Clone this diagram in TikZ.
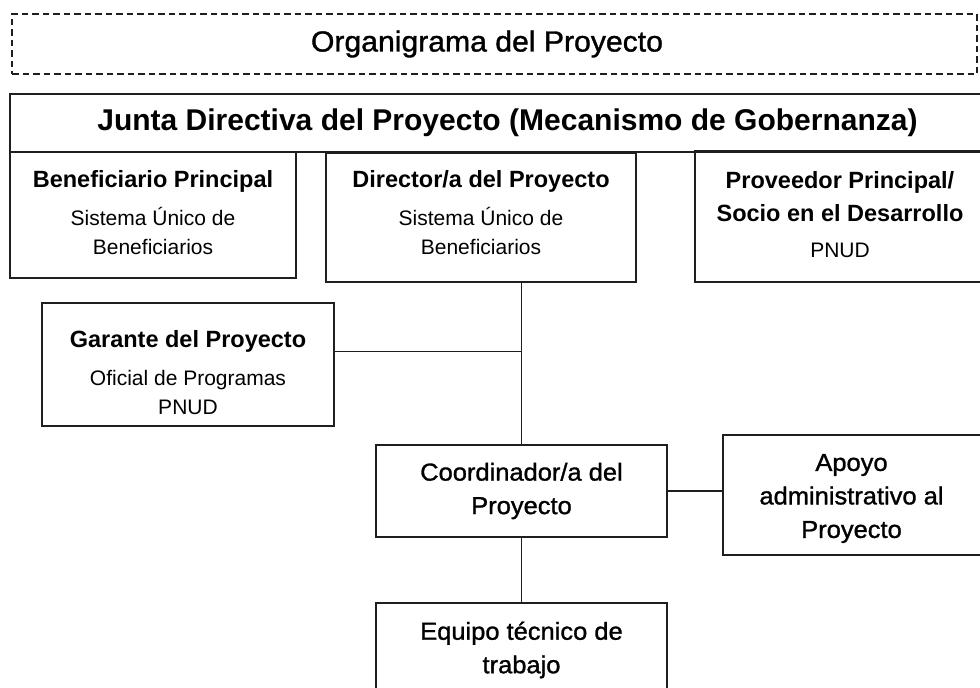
\documentclass[tikz,border=0pt]{standalone}
\usepackage{fontspec}
\setmainfont{Liberation Sans}
\newfontfamily\medfont[FakeStretch=1.04,FakeBold=1.2]{Liberation Sans}
\begin{document}
\begin{tikzpicture}[x=1pt,y=-1pt,
  box/.style={draw=black!88, line width=1.5pt, rectangle, inner sep=0pt, align=center},
  conn/.style={draw=black!88, line width=1.4pt},
  infotxt/.style={align=center, inner sep=0pt, anchor=north, font=\fontsize{21}{29.5}\selectfont},
  medtxt/.style={align=center, inner sep=0pt, font=\medfont\fontsize{24.5}{33.5}\selectfont}
]
\newcommand{\hd}[1]{{\bfseries\fontsize{23.5}{29.5}\selectfont #1}}
\useasboundingbox (0,0) rectangle (980,688);
\begin{scope}
\clip (0,0) rectangle (980,688);
% title
\node[box, dashed, dash pattern=on 6.5pt off 4pt, line width=1.3pt, minimum width=965pt, minimum height=60pt] (title) at (494.5,44) {};
\node[inner sep=0pt, font=\medfont\fontsize{29}{30}\selectfont] (titletxt) at (487,44) {Organigrama del Proyecto};
% junta
\node[box, minimum width=985pt, minimum height=58pt] (junta) at (502.5,123) {};
\node[font=\bfseries\fontsize{30}{32}\selectfont, inner sep=0pt] (juntatxt) at (507.5,123) {Junta Directiva del Proyecto (Mecanismo de Gobernanza)};
% top row
\node[box, minimum width=286pt, minimum height=126pt] (benef) at (153,215) {};
\node[infotxt] (beneftxt) at (153,170)
  {\hd{Beneficiario Principal}\\[8.5pt] Sistema Único de\\ Beneficiarios};
\node[box, minimum width=310pt, minimum height=129pt] (dir) at (481,217.5) {};
\node[infotxt] (dirtxt) at (481,170)
  {\hd{Director/a del Proyecto}\\[8.5pt] Sistema Único de\\ Beneficiarios};
\node[box, minimum width=300pt, minimum height=131pt] (prov) at (845,216.5) {};
\node[infotxt] (provtxt) at (840,171)
  {\hd{Proveedor Principal/}\\[3.5pt] \hd{Socio en el Desarrollo}\\[6.5pt] PNUD};
% garante
\node[box, minimum width=292pt, minimum height=123pt] (gar) at (188,364.5) {};
\node[infotxt] (gartxt) at (188,330)
  {\hd{Garante del Proyecto}\\[8.5pt] Oficial de Programas\\ PNUD};
% lower boxes
\node[box, minimum width=291pt, minimum height=92pt, medtxt] (coord) at (521.5,491) {Coordinador/a del\\Proyecto};
\node[box, minimum width=272pt, minimum height=120pt] (apoyo) at (859,495) {};
\node[medtxt] (apoyotxt) at (851.5,498.5) {Apoyo\\administrativo al\\Proyecto};
\node[box, minimum width=291pt, minimum height=97pt] (equipo) at (521.5,651.5) {};
\node[medtxt] (equipotxt) at (521.5,650) {Equipo técnico de\\trabajo};
% connectors
\draw[conn] (coord.north) -- (coord.north |- dir.south);
\draw[conn] (gar.north east) ++(0,49) coordinate (gtap) -- (gtap -| coord.north);
\draw[conn] (coord.east) -- (coord.east -| apoyo.west);
\draw[conn] (coord.south) -- (coord.south |- equipo.north);
\end{scope}
\end{tikzpicture}
\end{document}
